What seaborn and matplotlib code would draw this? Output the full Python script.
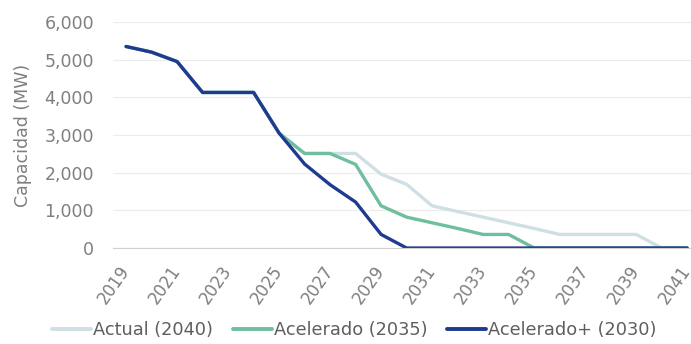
import matplotlib
matplotlib.use("Agg")
import matplotlib.pyplot as plt
import seaborn as sns
import pandas as pd
from matplotlib.ticker import FuncFormatter

years = list(range(2019, 2042))

actual_2040 = [5350, 5200, 4950, 4130, 4130, 4130, 3050, 2510, 2510, 2510,
               1960, 1690, 1120, 970, 820, 670, 520, 360, 360, 360, 360, 0, 0]
acelerado_2035 = [5350, 5200, 4950, 4130, 4130, 4130, 3050, 2510, 2510, 2220,
                  1120, 820, 670, 520, 360, 360, 0, 0, 0, 0, 0, 0, 0]
acelerado_plus_2030 = [5350, 5200, 4950, 4130, 4130, 4130, 3050, 2230, 1680, 1220,
                       360, 0, 0, 0, 0, 0, 0, 0, 0, 0, 0, 0, 0]

series_names = ["Actual (2040)", "Acelerado (2035)", "Acelerado+ (2030)"]
series_colors = ["#d0dfe4", "#6dbf9d", "#1f3b8f"]

df = pd.DataFrame({
    "Año": years * 3,
    "Capacidad": actual_2040 + acelerado_2035 + acelerado_plus_2030,
    "Escenario": [series_names[0]] * len(years)
                 + [series_names[1]] * len(years)
                 + [series_names[2]] * len(years),
})

sns.set_theme(style="white")
plt.rcParams["font.family"] = ["DejaVu Sans"]

fig = plt.figure(figsize=(6.91, 3.44), dpi=100)
ax = fig.add_axes([0.164, 0.279, 0.836, 0.657])

sns.lineplot(data=df, x="Año", y="Capacidad", hue="Escenario",
             hue_order=series_names, palette=series_colors,
             linewidth=2.4, ax=ax, legend=True)

ax.set_xlim(2018.5, 2041.15)
ax.set_ylim(0, 6000)
ax.set_yticks(range(0, 6001, 1000))
ax.yaxis.set_major_formatter(FuncFormatter(lambda v, p: f"{int(v):,}"))
ax.set_xticks(range(2019, 2042, 2))
ax.set_xticklabels([str(y) for y in range(2019, 2042, 2)], rotation=55,
                   ha="right", va="center", rotation_mode="anchor")

ax.grid(axis="y", color="#ececec", linewidth=0.8)
ax.grid(axis="x", visible=False)
for side in ["top", "right", "left"]:
    ax.spines[side].set_visible(False)
ax.spines["bottom"].set_color("#d0d0d0")
ax.spines["bottom"].set_linewidth(0.8)

ax.tick_params(axis="both", length=0, colors="#7f7f7f")
ax.tick_params(axis="y", pad=14, labelsize=12.5)
ax.tick_params(axis="x", pad=14, labelsize=12)
ax.set_xlabel("")
ax.set_ylabel("Capacidad (MW)", color="#7f7f7f", fontsize=12.5, labelpad=9)

leg = ax.legend(loc="center", bbox_to_anchor=(0.417, -0.363), ncol=3,
                frameon=False, fontsize=12.8, handlelength=2.2,
                handletextpad=0.12, columnspacing=1.1)
for txt in leg.get_texts():
    txt.set_color("#5f5f5f")
for line in leg.get_lines():
    line.set_linewidth(2.8)

fig.savefig("out.png", dpi=100)
